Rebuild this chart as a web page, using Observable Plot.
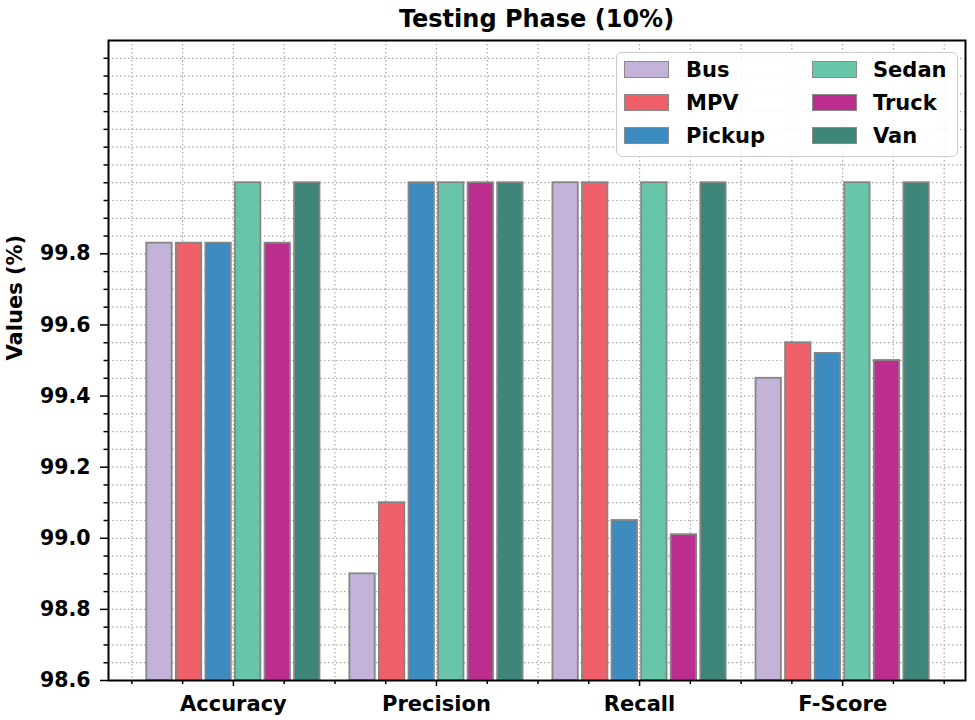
<!DOCTYPE html>
<html><head><meta charset="utf-8">
<script src="https://cdn.jsdelivr.net/npm/d3@7"></script>
<script src="https://cdn.jsdelivr.net/npm/@observablehq/plot@0.6"></script>
<style>
body{margin:0;background:#fff;font-family:"DejaVu Sans",sans-serif;}
#wrap{position:relative;width:975px;height:720px;}
#title{position:absolute;left:108px;width:857px;top:0;height:38px;line-height:38px;text-align:center;font-weight:bold;font-size:24px;color:#000;}
#chart{position:absolute;left:0;top:38px;}
#legend{position:absolute;left:616px;top:52px;width:342px;height:105px;box-sizing:border-box;border:1.5px solid #ccc;border-radius:6px;background:rgba(255,255,255,0.85);}
.patch{position:absolute;width:45px;height:17px;box-sizing:border-box;border:1.5px solid #8a8a8a;}
.lab{position:absolute;font-weight:bold;font-size:21px;line-height:24px;height:24px;color:#000;}
</style></head>
<body><div id="wrap"><div id="title">Testing Phase (10%)</div><div id="chart"></div><div id="legend"></div></div>
<script>
const categories = ["Accuracy", "Precision", "Recall", "F-Score"];
const series = ["Bus", "MPV", "Pickup", "Sedan", "Truck", "Van"];
const colors = ["#c3b3d9", "#f0606b", "#3d8bc0", "#67c5aa", "#bb2e8e", "#3d8679"];
const bus    = [99.83, 98.90, 100.0, 99.45];
const mpv    = [99.83, 99.10, 100.0, 99.55];
const pickup = [99.83, 100.0, 99.05, 99.52];
const sedan  = [100.0, 100.0, 100.0, 100.0];
const truck  = [99.83, 100.0, 99.01, 99.50];
const van    = [100.0, 100.0, 100.0, 100.0];
const yTicks = [98.6, 98.8, 99.0, 99.2, 99.4, 99.6, 99.8];
const yDomain = [98.6, 100.4];

const values = [bus, mpv, pickup, sedan, truck, van];
const data = [];
series.forEach((s, si) => values[si].forEach((v, ci) => data.push({cat: ci, series: s, si, value: v})));

const step = 0.1456, bw = 0.125;
const yMinor = d3.range(1, 36).map(i => +(yDomain[0] + i * 0.05).toFixed(2)).filter(v => !yTicks.some(t => Math.abs(t - v) < 1e-6));
const yGrid = d3.range(1, 36).map(i => +(yDomain[0] + i * 0.05).toFixed(2));
const xPos = categories.map((c, i) => i);
const xGrid = d3.range(-2, 15).map(i => i * 0.25);
const xMinor = xGrid.filter(v => !Number.isInteger(v));

const chart = Plot.plot({
  width: 975, height: 682,
  marginTop: 2, marginBottom: 40, marginLeft: 108, marginRight: 10,
  x: {type: "linear", domain: [-0.615, 3.605], axis: null},
  y: {domain: yDomain, axis: null},
  color: {domain: series, range: colors},
  style: {fontFamily: "DejaVu Sans", fontWeight: "bold", color: "#000", background: "#fff"},
  marks: [
    Plot.gridY(yGrid, {stroke: "#a8a8a8", strokeOpacity: 1, strokeDasharray: "1.5,2.5", strokeWidth: 1.2}),
    Plot.gridX(xGrid, {stroke: "#a8a8a8", strokeOpacity: 1, strokeDasharray: "1.5,2.5", strokeWidth: 1.2}),
    Plot.rect(data, {
      x1: d => d.cat + (d.si - 2.5) * step - bw / 2,
      x2: d => d.cat + (d.si - 2.5) * step + bw / 2,
      y1: yDomain[0], y2: "value",
      fill: "series", stroke: "#858585", strokeWidth: 1.8
    }),
    Plot.axisY(yTicks, {tickSize: 8, tickPadding: 10, fontSize: 20.5, tickFormat: d => d.toFixed(1), strokeWidth: 1.5, label: null}),
    Plot.axisY(yMinor, {tickSize: 4.5, tickFormat: () => "", strokeWidth: 1.5, label: null}),
    Plot.axisX(xPos, {tickSize: 6, tickPadding: 10, fontSize: 21, tickFormat: i => categories[i], strokeWidth: 1.5, label: null}),
    Plot.axisX(xMinor, {tickSize: 4, tickFormat: () => "", strokeWidth: 1.5, label: null}),
    Plot.text(["Values (%)"], {frameAnchor: "left", dx: -93, rotate: -90, fontSize: 21, fontWeight: "bold", fill: "#000"}),
    Plot.frame({stroke: "#000", strokeWidth: 2})
  ]
});
document.getElementById("chart").appendChild(chart);

const legend = document.getElementById("legend");
const rowsY = [18, 51, 84];
series.forEach((s, i) => {
  const col = Math.floor(i / 3), row = i % 3;
  const px = col === 0 ? 7 : 195, tx = col === 0 ? 69 : 256;
  const p = document.createElement("div");
  p.className = "patch";
  p.style.left = px + "px"; p.style.top = (rowsY[row] - 8.5 - 1.5) + "px";
  p.style.background = colors[i];
  legend.appendChild(p);
  const t = document.createElement("div");
  t.className = "lab";
  t.style.left = tx + "px"; t.style.top = (rowsY[row] - 12 - 1.5) + "px";
  t.textContent = s;
  legend.appendChild(t);
});
</script>
</body></html>
